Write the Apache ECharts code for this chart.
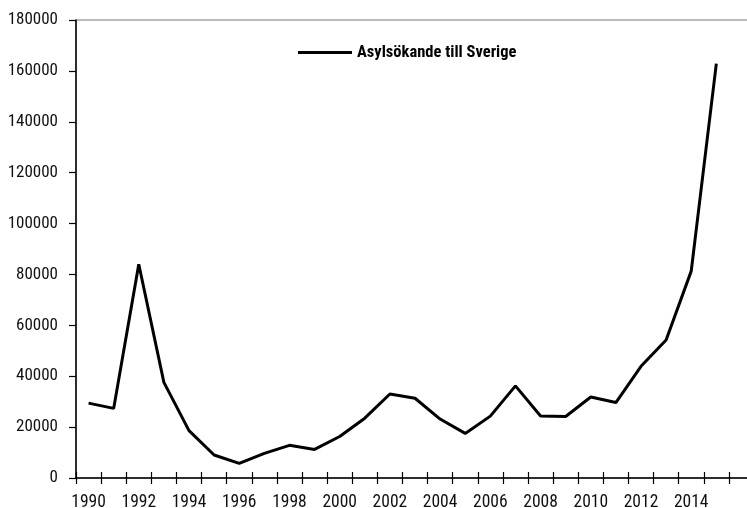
<!DOCTYPE html>
<html>
<head>
<meta charset="utf-8">
<script src="https://cdn.jsdelivr.net/npm/echarts@6/dist/echarts.min.js"></script>
<style>
  html, body { margin: 0; padding: 0; background: #fff; }
  #main { width: 747px; height: 508px; }
</style>
</head>
<body>
<div id="main"></div>
<script>
// data
var years = ['1990', '1991', '1992', '1993', '1994', '1995', '1996', '1997', '1998', '1999',
  '2000', '2001', '2002', '2003', '2004', '2005', '2006', '2007', '2008', '2009',
  '2010', '2011', '2012', '2013', '2014', '2015'];
var asylum = [29420, 27351, 84018, 37581, 18640, 9047, 5753, 9662, 12844, 11231,
  16303, 23515, 33016, 31348, 23161, 17530, 24322, 36207, 24353, 24194,
  31819, 29648, 43887, 54259, 81301, 162877];
var seriesName = 'Asylsökande till Sverige';

// an extra empty band at the right so the axis runs past the last tick
var cats = years.concat(['']);

var font = '"Roboto Condensed", "Liberation Sans Narrow", sans-serif';

var chart = echarts.init(document.getElementById('main'));
chart.setOption({
  animation: false,
  textStyle: { fontFamily: font },
  grid: {
    left: 76, top: 20, width: 678, height: 458,
    outerBoundsMode: 'none', containLabel: false,
    show: true, borderColor: '#777', borderWidth: 1, backgroundColor: 'transparent'
  },
  legend: {
    top: 39, left: 293,
    itemWidth: 54, itemHeight: 3, itemGap: 6,
    textStyle: { fontFamily: font, fontSize: 16.5, fontWeight: 'bold', color: '#000' },
    data: [{ name: seriesName, icon: 'rect', itemStyle: { color: '#000' } }]
  },
  xAxis: [{
    type: 'category',
    data: cats,
    boundaryGap: true,
    axisLine: { lineStyle: { color: '#000', width: 1.5 } },
    axisTick: { show: true, length: 6, interval: 0, lineStyle: { color: '#000', width: 1.2 } },
    axisLabel: { interval: 1, margin: 16, fontSize: 17.5, color: '#111', fontFamily: font }
  }, {
    // inner half of the crossing ticks
    type: 'category',
    data: cats,
    position: 'bottom',
    boundaryGap: true,
    axisLine: { show: false },
    axisTick: { show: true, inside: true, length: 6, interval: 0, lineStyle: { color: '#000', width: 1.2 } },
    axisLabel: { show: false }
  }],
  yAxis: {
    type: 'value',
    min: 0, max: 180000, interval: 20000,
    splitLine: { show: false },
    axisLine: { show: true, lineStyle: { color: '#000', width: 1.5 } },
    axisTick: { show: true, length: 7, lineStyle: { color: '#000', width: 1.2 } },
    axisLabel: {
      margin: 18, fontSize: 17, color: '#111', fontFamily: font,
      formatter: function (v) { return String(v); }
    }
  },
  series: [{
    name: seriesName,
    type: 'line',
    data: asylum,
    symbol: 'none',
    color: '#000',
    lineStyle: { color: '#000', width: 3 }
  }]
});
</script>
</body>
</html>
